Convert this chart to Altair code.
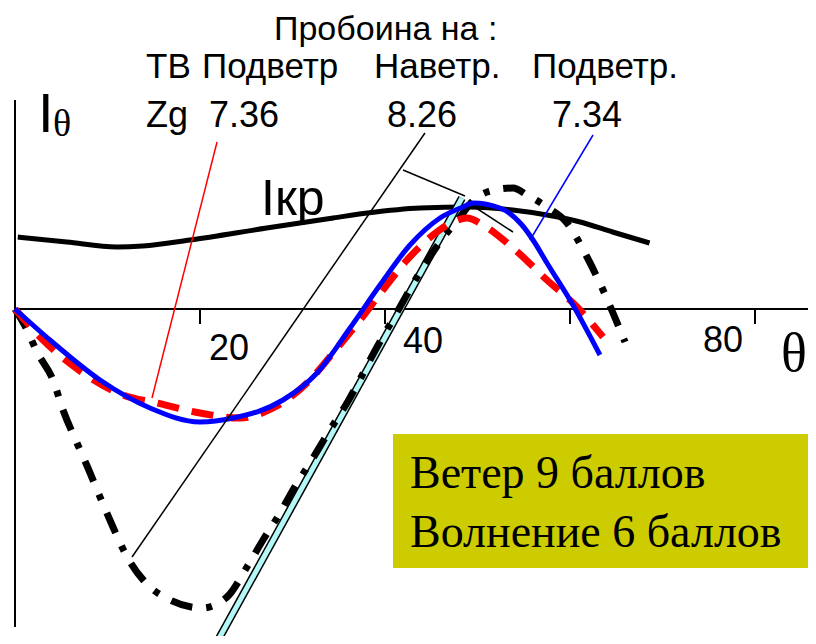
import altair as alt
import pandas as pd

# ---------------- data ----------------
# critical arm curve "Iкр"
kr_theta = [0.3, 5.6, 11.0, 13.8, 18.9, 27.2, 34.4, 38.1, 43.8, 49.2, 53.8, 57.5, 61.1, 64.6, 68.6]
kr_val = [0.72, 0.67, 0.62, 0.63, 0.69, 0.81, 0.91, 0.96, 1.01, 1.02, 0.99, 0.94, 0.87, 0.77, 0.66]

# blue solid curve (Zg 7.34)
blue_theta = [0, 3.78, 9.19, 14.59, 20.0, 23.57, 28.97, 32.65, 36.22, 39.46, 42.70,
              45.95, 48.43, 49.51, 52.43, 54.81, 56.0, 57.51, 60.32, 63.24]
blue_val = [0, -0.31, -0.71, -0.99, -1.13, -1.09, -0.91, -0.64, -0.19, 0.24, 0.64,
            0.91, 1.02, 1.06, 1.01, 0.84, 0.69, 0.46, 0.04, -0.46]

# red dashed curve (Zg 7.36)
red_theta = [0, 3.03, 7.35, 11.68, 15.35, 20.0, 24.32, 27.89, 31.57, 34.38, 37.3, 39.78,
             42.38, 45.19, 47.35, 48.86, 50.59, 53.84, 57.51, 60.76, 63.57]
red_val = [0, -0.31, -0.64, -0.86, -0.94, -1.04, -1.09, -0.99, -0.74, -0.44, -0.11, 0.19,
           0.49, 0.74, 0.87, 0.91, 0.84, 0.61, 0.29, 0.02, -0.28]

# black dash-dot curve (Zg 8.26)
dd_theta = [0, 1.30, 2.38, 4.11, 5.19, 6.70, 7.89, 9.19, 10.59, 11.89, 14.05, 16.76, 20.22,
            22.92, 25.08, 26.81, 28.65, 30.05, 32.22, 33.84, 35.89, 39.14, 41.62, 43.46,
            46.27, 48.11, 49.19, 51.03, 53.84, 55.35, 57.51, 59.68, 61.84, 63.57, 64.65, 65.95]
dd_val = [0, -0.21, -0.43, -0.71, -1.01, -1.34, -1.59, -1.88, -2.18, -2.44, -2.73, -2.91, -2.99,
          -2.88, -2.58, -2.31, -2.04, -1.81, -1.49, -1.24, -0.94, -0.38, 0.02, 0.32,
          0.71, 0.92, 1.05, 1.17, 1.21, 1.14, 1.02, 0.86, 0.52, 0.19, -0.04, -0.33]

# tangent (cyan band) and its hook at the top
tan_theta = [21.84, 48.32]
tan_val = [-3.33, 1.11]
hook1_theta = [41.95, 48.65]
hook1_val = [1.39, 1.13]
hook2_theta = [49.19, 53.84]
hook2_val = [1.05, 0.77]

# leader lines from the labels to the curves
lead_red_theta = [14.81, 21.84]
lead_red_val = [-0.89, 1.67]
lead_black_theta = [12.65, 44.32]
lead_black_val = [-2.48, 1.76]
lead_blue_theta = [55.68, 62.49]
lead_blue_val = [0.69, 1.74]

# axes
tick_theta = [20, 40, 60, 80]
tick_labels = ["20", "40", "80"]
tick_label_theta = [20, 40, 80]
x_axis_end = 85.73
y_axis_top = 2.09
y_axis_bottom = -3.18

# header texts
header_title = "Пробоина на :"
header_row2 = ["ТВ", "Подветр", "Наветр.", "Подветр."]
header_row3 = ["Zg", "7.36", "8.26", "7.34"]
box_lines = ["Ветер 9 баллов", "Волнение 6 баллов"]

# ---------------- chart ----------------
W, H = 800, 628
xs = alt.Scale(domain=[-0.7568, 85.73], nice=False, zero=False)
ys = alt.Scale(domain=[-3.27, 3.01], nice=False, zero=False)
X = alt.X("t:Q", scale=xs, axis=None)
Y = alt.Y("v:Q", scale=ys, axis=None)


def df(t, v):
    return pd.DataFrame({"t": t, "v": v})


def line(t, v, **kw):
    return alt.Chart(df(t, v)).mark_line(**kw).encode(x=X, y=Y)


one = pd.DataFrame({"a": [0]})


def txt(s, x, y, size, font="Liberation Sans", align="left", color="black"):
    return alt.Chart(one).mark_text(
        text=s, align=align, baseline="alphabetic", font=font, fontSize=size, color=color
    ).encode(x=alt.value(x), y=alt.value(y))


layers = []

# axes
layers.append(alt.Chart(pd.DataFrame({"t": [0], "v": [y_axis_top], "v2": [y_axis_bottom]}))
              .mark_rule(color="black", strokeWidth=2)
              .encode(x=X, y=Y, y2=alt.Y2("v2:Q")))
layers.append(alt.Chart(pd.DataFrame({"t": [0], "t2": [x_axis_end], "v": [0]}))
              .mark_rule(color="black", strokeWidth=2)
              .encode(x=X, x2=alt.X2("t2:Q"), y=Y))
layers.append(alt.Chart(pd.DataFrame({"t": tick_theta, "v": [0] * 4, "v2": [-0.15] * 4}))
              .mark_rule(color="black", strokeWidth=2)
              .encode(x=X, y=Y, y2=alt.Y2("v2:Q")))

# tick labels
lab_df = pd.DataFrame({"t": tick_label_theta, "v": [0] * 3, "lab": tick_labels})
offsets = {"20": (29, 51), "40": (38, 44), "80": (-32, 43)}
for lab in tick_labels:
    dx, dy = offsets[lab]
    layers.append(alt.Chart(lab_df[lab_df.lab == lab])
                  .mark_text(align="center", baseline="alphabetic", font="Liberation Sans",
                             fontSize=36, dx=dx, dy=dy, color="black")
                  .encode(x=X, y=Y, text="lab:N"))

# Iкр curve
layers.append(line(kr_theta, kr_val, color="black", strokeWidth=5, interpolate="monotone"))

# tangent band
layers.append(line(tan_theta, tan_val, color="black", strokeWidth=8))
layers.append(line(tan_theta, tan_val, color="#b3f7f7", strokeWidth=5))
layers.append(line(hook1_theta, hook1_val, color="black", strokeWidth=1.5))
layers.append(line(hook2_theta, hook2_val, color="black", strokeWidth=1.5))

# curves
layers.append(line(dd_theta, dd_val, color="black", strokeWidth=7, strokeDash=[22, 14, 6, 14],
                   interpolate="monotone"))
layers.append(line(red_theta, red_val, color="#ff0000", strokeWidth=7, strokeDash=[22, 13],
                   interpolate="monotone"))
layers.append(line(blue_theta, blue_val, color="#0000ff", strokeWidth=5, interpolate="monotone"))

# leader lines
layers.append(line(lead_red_theta, lead_red_val, color="#ff0000", strokeWidth=1.5))
layers.append(line(lead_black_theta, lead_black_val, color="black", strokeWidth=1.5))
layers.append(line(lead_blue_theta, lead_blue_val, color="#0000ff", strokeWidth=1.5))

# header texts
layers.append(txt(header_title, 266, 32, 34))
for s, x in zip(header_row2, [138, 194, 366, 524]):
    layers.append(txt(s, x, 70, 35))
for s, x in zip(header_row3, [138, 201, 379, 544]):
    layers.append(txt(s, x, 119, 36))

# axis titles
layers.append(txt("I", 30, 124, 56))
layers.append(txt("θ", 45, 128, 38, font="Liberation Serif"))
layers.append(txt("θ", 773, 363, 54, font="Liberation Serif"))
layers.append(txt("Iкр", 253, 207, 50))

# box
layers.append(alt.Chart(one).mark_rect(color="#cccc00").encode(
    x=alt.value(385), x2=alt.value(800), y=alt.value(426), y2=alt.value(560)))
layers.append(txt(box_lines[0], 402, 480, 46, font="Liberation Serif"))
layers.append(txt(box_lines[1], 402, 539, 46, font="Liberation Serif"))

chart = alt.layer(*layers).properties(
    width=W, height=H, padding=0, background="white",
    autosize=alt.AutoSizeParams(type="none"),
).configure_view(stroke=None)

chart.save("out.html", embed_options={"renderer": "svg", "actions": False})
